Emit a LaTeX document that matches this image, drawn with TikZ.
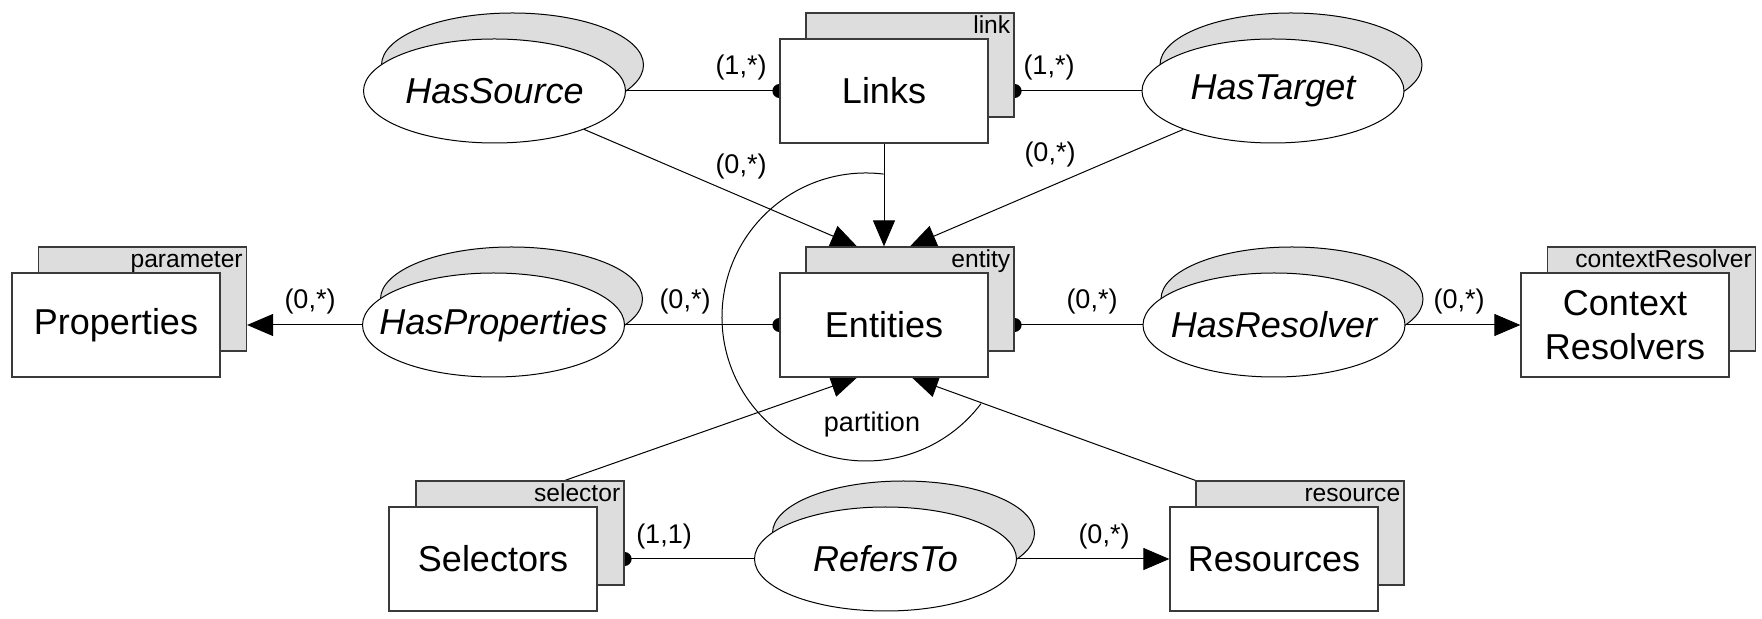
\documentclass[tikz,border=0pt]{standalone}
\usepackage{fontspec}
\setmainfont{Liberation Sans}
\usetikzlibrary{arrows.meta,calc,shapes.geometric}
\definecolor{edge}{HTML}{3A3A3A}
\definecolor{shade}{HTML}{DDDDDD}
\pgfdeclarelayer{bg}
\pgfsetlayers{bg,main}
\tikzset{
  box/.style={rectangle, draw=edge, fill=white, line width=0.6pt, minimum width=104pt, minimum height=52pt, inner sep=0pt, font=\fontsize{18}{22}\selectfont, align=center},
  boxB/.style={box, fill=shade},
  rel/.style={ellipse, draw=black, fill=white, line width=0.5pt, minimum width=131pt, minimum height=52pt, inner sep=0pt, font=\fontsize{18}{22}\selectfont\itshape,
    execute at begin node={\hbox to 0pt\bgroup\hss}, execute at end node={\hss\egroup}},
  relB/.style={rel, fill=shade},
  card/.style={font=\fontsize{13.5}{16}\selectfont, inner sep=0pt},
  tag/.style={font=\fontsize{12.3}{14}\selectfont, anchor=north east, inner sep=0pt, text height=8.5pt, text depth=2.5pt},
  conn/.style={line width=0.5pt, draw=black},
  arr/.style={conn, -{Triangle[length=13pt, width=11pt]}},
  dot/.style={circle, fill=black, inner sep=0pt, minimum size=7pt}
}
\begin{document}
\begin{tikzpicture}[x=0.5pt, y=-0.5pt]
  \useasboundingbox (0,0) rectangle (1762,619);

  % sheets behind
  \node[boxB] (lnkB) at (910,65) {};
  \node[boxB] (entB) at (910,299) {};
  \node[boxB] (propB) at (142.5,299) {};
  \node[boxB] (ctxB) at (1651.5,299) {};
  \node[boxB] (selB) at (520,533) {};
  \node[boxB] (resB) at (1300,533) {};
  \node[relB] (hsrcB) at (512.5,65) {};
  \node[relB] (htgtB) at (1291,65) {};
  \node[relB] (hpropB) at (511.5,299) {};
  \node[relB] (hresB) at (1292,299) {};
  \node[relB] (refsB) at (903.5,533) {};

  \node[tag] (lnkT) at ($(lnkB.north east)+(-4,4)$) {link};
  \node[tag] (entT) at ($(entB.north east)+(-4,4)$) {entity};
  \node[tag] (propT) at ($(propB.north east)+(-4,4)$) {parameter};
  \node[tag] (ctxT) at ($(ctxB.north east)+(-4,4)$) {contextResolver};
  \node[tag] (selT) at ($(selB.north east)+(-4,4)$) {selector};
  \node[tag] (resT) at ($(resB.north east)+(-4,4)$) {resource};

  % front sheets
  \node[box] (lnk) at (884,91) {Links};
  \node[box] (ent) at (884,325) {Entities};
  \node[box] (prop) at (116,325) {Properties};
  \node[box] (ctx) at (1625,325) {Context\\Resolvers};
  \node[box] (sel) at (493,559) {Selectors};
  \node[box] (res) at (1274,559) {Resources};
  \node[rel] (hsrc) at (494.5,91) {HasSource};
  \node[rel] (htgt) at (1273,91) {HasTarget};
  \node[rel] (hprop) at (493.5,325) {HasProperties};
  \node[rel] (hres) at (1274,325) {HasResolver};
  \node[rel] (refs) at (885.5,559) {RefersTo};

  \coordinate (tipL) at ($(entB.north)+(-53,0)$);
  \coordinate (tipM) at ($(entB.north)+(-26,0)$);
  \coordinate (tipR) at (entB.north);
  \coordinate (tipBL) at ($(ent.south)+(-27,0)$);
  \coordinate (tipBR) at ($(ent.south)+(28,0)$);
  \coordinate (selTop) at ($(selB.north)+(45,0)$);

  \begin{pgfonlayer}{bg}
    \draw[conn] (hsrc) -- (lnk.west) node[dot] {};
    \draw[conn] (htgt) -- (lnkB.east |- lnk.center) node[dot] {};
    \draw[conn] (hprop) -- (ent.west) node[dot] {};
    \draw[conn] (hres) -- (entB.east |- ent.center) node[dot] {};
    \draw[conn] (refs) -- (selB.east |- sel.center) node[dot] {};
    \draw[arr] (lnk.south) -- (tipM);
    \draw[arr] (hsrc) -- (tipL);
    \draw[arr] (htgt) -- (tipR);
    \draw[arr] (hprop) -- (propB.east |- prop.center);
    \draw[arr] (hres) -- (ctx.west);
    \draw[arr] (refs) -- (res.west);
    \draw[arr] (selTop) -- (tipBL);
    \draw[arr] (resB.north west) -- (tipBR);
    % partition
    \draw[conn] (866,317) ++(-83:144) arc[start angle=-83, end angle=-323, radius=144];
  \end{pgfonlayer}

  \node[card] (c1) at (741,68) {(1,*)};
  \node[card] (c2) at (1049,68) {(1,*)};
  \node[card] (c3) at (741,167) {(0,*)};
  \node[card] (c4) at (1050,155) {(0,*)};
  \node[card] (c5) at (310,302) {(0,*)};
  \node[card] (c6) at (685,302) {(0,*)};
  \node[card] (c7) at (1092,302) {(0,*)};
  \node[card] (c8) at (1459,302) {(0,*)};
  \node[card] (c9) at (664,537) {(1,1)};
  \node[card] (c10) at (1104,537) {(0,*)};
  \node[card] (part) at (872,425) {partition};
\end{tikzpicture}
\end{document}
